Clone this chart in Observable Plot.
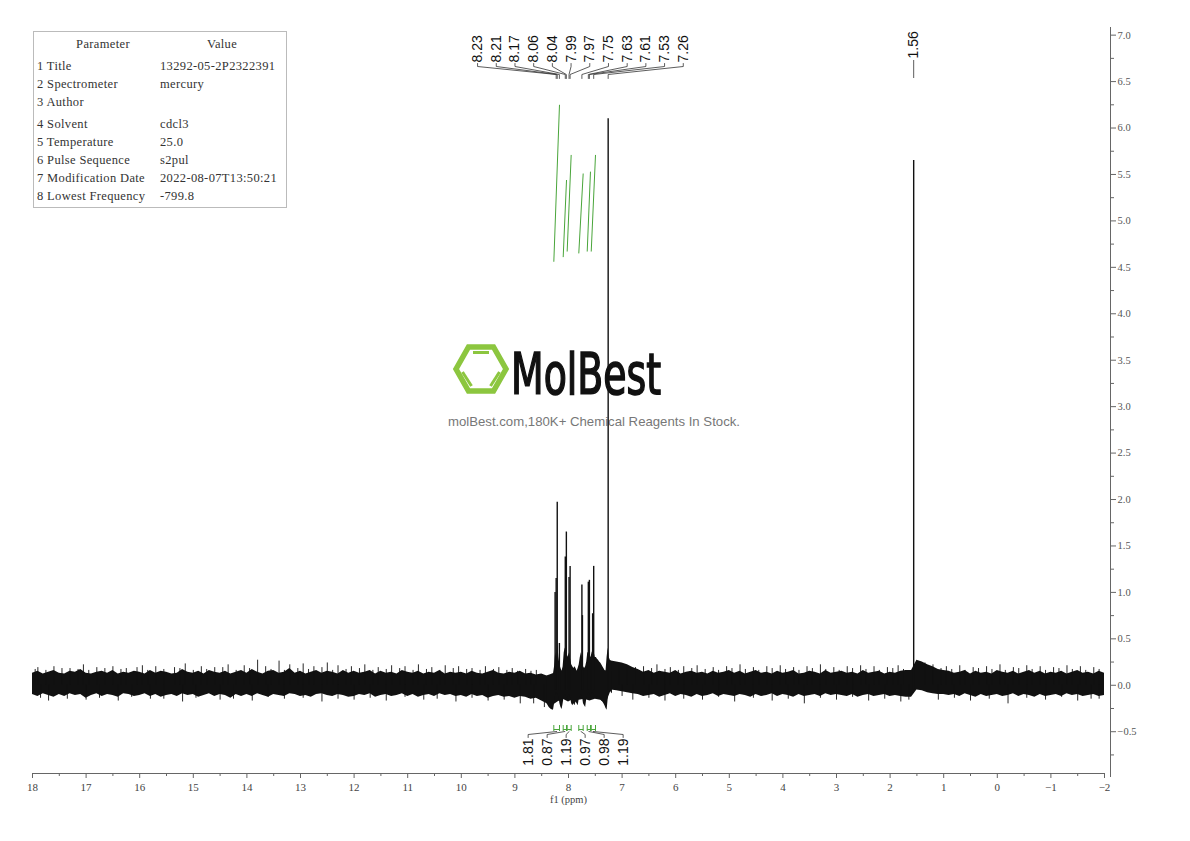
<!DOCTYPE html>
<html><head><meta charset="utf-8">
<script src="https://cdn.jsdelivr.net/npm/d3@7"></script>
<script src="https://cdn.jsdelivr.net/npm/@observablehq/plot@0.6"></script>
<style>
body{margin:0;background:#fff;}
#wrap{position:relative;width:1190px;height:841px;overflow:hidden;background:#fff;}
#wm{position:absolute;left:0;top:0;z-index:0;}
#chart{position:absolute;left:0;top:0;z-index:1;}
#chart svg{background:transparent !important;}
#params{position:absolute;left:33px;top:31px;width:254px;height:177px;border:1px solid #bbb;box-sizing:border-box;z-index:2;font-family:"Liberation Serif",serif;font-size:12.5px;color:#333;background:#fff;letter-spacing:0.35px;}
#params span{position:absolute;white-space:nowrap;line-height:14px;}
</style></head>
<body>
<div id="wrap">
<svg id="wm" width="1190" height="841">
  <g fill="none" stroke="#8cc63f" stroke-linejoin="miter">
    <polygon stroke-width="5.5" points="456,369 468.5,347 493.5,347 506,369 493.5,391 468.5,391"/>
    <line stroke-width="3" x1="473" y1="352.5" x2="489" y2="352.5"/>
    <line stroke-width="3" x1="462.5" y1="372" x2="471.5" y2="386"/>
    <line stroke-width="3" x1="499.5" y1="372" x2="490.5" y2="386"/>
  </g>
  <text x="511" y="393.5" font-family="DejaVu Sans Condensed, DejaVu Sans" font-size="57" fill="#111" stroke="#111" stroke-width="1.6" textLength="150" lengthAdjust="spacingAndGlyphs">MolBest</text>
  <text x="594" y="426" text-anchor="middle" font-family="Liberation Sans, Arial" font-size="13" fill="#777" textLength="292" lengthAdjust="spacingAndGlyphs">molBest.com,180K+ Chemical Reagents In Stock.</text>
</svg>
<div id="chart"></div>
<div id="params"></div>
</div>
<script>
// ---------------- DATA ----------------
// Parameter table
const paramHeaders = ["Parameter", "Value"];
const paramNames = ["1 Title","2 Spectrometer","3 Author","4 Solvent","5 Temperature","6 Pulse Sequence","7 Modification Date","8 Lowest Frequency"];
const paramValues = ["13292-05-2P2322391","mercury","","cdcl3","25.0","s2pul","2022-08-07T13:50:21","-799.8"];

// axis ticks
const xTickValues = [18,17,16,15,14,13,12,11,10,9,8,7,6,5,4,3,2,1,0,-1,-2];
const yTickValues = [7,6.5,6,5.5,5,4.5,4,3.5,3,2.5,2,1.5,1,0.5,0,-0.5];
const xLabel = "f1 (ppm)";

// baseline noise envelope, read every 0.1 ppm from 18.0 down to -2.0 (hundredths)
const noiseHi = [
13,15,12,14,16,13,12,15,14,17,13,12,14,15,13,16,12,14,13,15,
14,12,16,13,15,14,12,13,17,14,13,15,12,16,14,13,15,12,14,16,
13,17,14,12,15,16,13,14,18,13,15,12,14,16,13,15,14,12,16,13,
15,13,14,16,12,15,13,14,12,16,14,13,15,12,14,13,16,12,14,13,
14,12,15,13,12,14,16,13,12,14,13,15,12,13,11,12,10,
12,14,15,14,14,15,16,17,18,16,15,
26,25,24,22,19,17,
14,16,13,15,14,13,16,12,14,15,13,14,12,15,13,14,16,
13,15,12,14,16,13,14,12,15,13,14,16,12,13,15,14,12,16,13,14,
15,13,14,12,16,13,14,15,12,14,13,15,16,
16,27,25,22,20,17,16,
15,13,14,16,12,15,13,14,12,16,14,13,15,12,14,16,13,15,12,14,13,15,12,14,16,13,14,12,15,13];
const noiseLo = [
-10,-12,-9,-11,-13,-10,-12,-9,-11,-10,-14,-11,-9,-12,-10,-11,-13,-9,-10,-12,
-11,-9,-12,-10,-13,-11,-10,-12,-9,-11,-10,-13,-11,-9,-12,-10,-11,-14,-10,-12,
-10,-12,-9,-11,-13,-10,-11,-12,-9,-10,-12,-11,-13,-10,-9,-11,-12,-10,-11,-13,
-12,-10,-11,-9,-13,-11,-10,-12,-11,-9,-12,-10,-13,-11,-10,-12,-9,-11,-10,-12,
-11,-13,-10,-12,-11,-14,-12,-11,-13,-12,-14,-12,-13,-15,-14,-17,-20,
-22,-18,-15,-18,-15,-16,-15,-17,-15,-16,-20,
-5,-6,-7,-8,-9,-10,
-12,-11,-10,-13,-11,-9,-12,-10,-11,-13,-10,-12,-11,-9,-12,-10,-11,
-12,-10,-11,-13,-10,-12,-11,-9,-12,-10,-11,-13,-10,-12,-11,-10,-12,-9,-11,-10,
-11,-12,-10,-13,-11,-10,-12,-11,-10,-12,-11,-12,-13,
-13,-5,-6,-8,-9,-10,-10,
-11,-10,-12,-9,-11,-13,-10,-12,-11,-10,-12,-11,-9,-12,-10,-11,-13,-10,-12,-11,-10,-12,-9,-11,-10,-12,-11,-10,-12,-11];

// finer envelope in the aromatic region
const aroPpm = [8.40,8.36,8.32,8.28,8.26,8.24,8.22,8.20,8.18,8.16,8.14,8.12,8.10,8.08,8.06,8.04,8.02,8.00,7.98,7.96,7.94,7.92,7.90,7.88,7.86,7.84,7.82,7.80,7.78,7.76,7.74,7.72,7.70,7.68,7.66,7.64,7.62,7.60,7.58,7.56,7.54,7.52,7.50,7.48,7.46,7.44,7.42,7.40,7.38,7.36,7.34,7.32,7.30,7.28,7.26,7.24,7.22,7.20,7.18];
const aroHi  = [0.10,0.09,0.10,0.12,0.20,0.35,0.30,0.45,0.30,0.22,0.18,0.15,0.20,0.35,0.40,0.35,0.30,0.32,0.35,0.28,0.22,0.20,0.18,0.20,0.18,0.15,0.18,0.22,0.30,0.35,0.30,0.20,0.18,0.20,0.25,0.35,0.35,0.32,0.30,0.35,0.38,0.35,0.30,0.30,0.28,0.27,0.25,0.24,0.22,0.20,0.18,0.16,0.15,0.30,0.40,0.30,0.27,0.26,0.24];
const aroLo  = [-0.20,-0.24,-0.26,-0.27,-0.20,-0.10,-0.08,-0.10,-0.12,-0.20,-0.24,-0.26,-0.20,-0.12,-0.10,-0.12,-0.15,-0.12,-0.10,-0.14,-0.20,-0.22,-0.20,-0.22,-0.18,-0.20,-0.22,-0.15,-0.12,-0.10,-0.12,-0.20,-0.22,-0.24,-0.15,-0.10,-0.08,-0.10,-0.12,-0.08,-0.08,-0.10,-0.12,-0.14,-0.12,-0.15,-0.15,-0.14,-0.17,-0.18,-0.20,-0.22,-0.25,-0.27,-0.15,-0.05,-0.06,-0.08,-0.09];

// isolated noise spikes
const upPpm = [17.9,17.6,17.3,17.05,16.8,16.5,16.25,15.95,15.7,15.35,15.15,14.85,14.6,14.35,14.05,13.8,13.65,13.4,13.2,12.95,12.75,12.5,12.3,12.05,11.8,11.55,11.3,11.05,10.8,10.55,10.3,10.05,9.8,9.55,9.3,9.05,8.8,8.6,6.9,6.6,6.35,6.1,5.85,5.6,5.3,5.05,4.8,4.55,4.3,4.05,3.8,3.55,3.3,3.05,2.8,2.55,2.3,2.05,1.85,1.2,0.95,0.7,0.45,0.2,-0.05,-0.3,-0.55,-0.8,-1.05,-1.3,-1.55,-1.8,
  17.95,17.75,17.45,17.15,16.95,16.65,16.35,16.05,15.85,15.55,15.25,15.0,14.75,14.45,14.2,13.95,13.55,13.3,13.05,12.85,12.6,12.4,12.15,11.9,11.65,11.4,11.15,10.9,10.65,10.4,10.15,9.9,9.65,9.4,9.15,8.95,8.7,
  7.05,6.75,6.45,6.2,5.95,5.7,5.45,5.2,4.95,4.7,4.45,4.2,3.95,3.7,3.45,3.2,2.95,2.7,2.45,2.2,1.95,1.75,
  1.35,1.05,0.85,0.6,0.35,0.1,-0.15,-0.4,-0.65,-0.9,-1.15,-1.4,-1.65,-1.9];
const upVal = [0.19,0.20,0.18,0.22,0.19,0.20,0.18,0.21,0.20,0.19,0.23,0.20,0.19,0.22,0.21,0.27,0.20,0.26,0.22,0.23,0.20,0.24,0.21,0.20,0.22,0.19,0.21,0.20,0.22,0.19,0.21,0.20,0.18,0.20,0.19,0.18,0.17,0.16,0.20,0.20,0.22,0.19,0.20,0.21,0.19,0.20,0.22,0.19,0.20,0.21,0.19,0.20,0.22,0.19,0.20,0.21,0.20,0.19,0.21,0.22,0.20,0.21,0.19,0.20,0.22,0.19,0.21,0.20,0.19,0.21,0.20,0.19,
  0.17,0.16,0.18,0.17,0.16,0.18,0.17,0.19,0.16,0.17,0.18,0.16,0.17,0.19,0.16,0.18,0.17,0.16,0.18,0.17,0.19,0.16,0.17,0.18,0.16,0.17,0.18,0.16,0.17,0.16,0.18,0.17,0.16,0.17,0.16,0.15,0.15,
  0.22,0.19,0.18,0.17,0.16,0.18,0.17,0.16,0.18,0.17,0.16,0.18,0.17,0.16,0.18,0.17,0.16,0.18,0.17,0.16,0.18,0.17,
  0.24,0.18,0.17,0.16,0.18,0.17,0.16,0.18,0.17,0.16,0.18,0.17,0.16,0.17];
const downPpm = [17.7,17.0,16.4,15.8,15.2,14.5,13.9,13.3,12.6,12.0,11.4,10.7,10.1,9.5,8.9,8.45,6.8,6.2,5.5,4.9,4.2,3.6,3.0,2.4,1.8,1.1,0.5,-0.2,-0.9,-1.5,-1.9,
  17.85,17.35,16.75,16.15,15.55,14.95,14.25,13.6,12.95,12.3,11.7,11.05,10.45,9.8,9.2,8.65,7.0,6.5,5.85,5.2,4.55,3.9,3.3,2.7,2.1,1.65,0.8,0.15,-0.55,-1.2,-1.75];
const downVal = [-0.17,-0.16,-0.17,-0.15,-0.18,-0.16,-0.17,-0.15,-0.18,-0.16,-0.17,-0.16,-0.18,-0.17,-0.20,-0.24,-0.16,-0.17,-0.16,-0.18,-0.17,-0.20,-0.16,-0.17,-0.18,-0.16,-0.17,-0.20,-0.16,-0.17,-0.15,
  -0.14,-0.15,-0.14,-0.13,-0.15,-0.14,-0.15,-0.13,-0.14,-0.15,-0.14,-0.13,-0.15,-0.14,-0.16,-0.20,-0.12,-0.14,-0.15,-0.13,-0.14,-0.15,-0.14,-0.13,-0.15,-0.16,-0.14,-0.15,-0.14,-0.13,-0.15];

// resonance lines
const peakPpm = [8.25,8.23,8.21,8.17,8.06,8.04,7.99,7.97,7.75,7.74,7.63,7.61,7.55,7.53,7.26,1.56];
const peakH   = [1.00,1.15,1.97,0.45,1.38,1.65,1.16,1.28,1.08,0.75,1.11,1.13,0.77,1.28,6.10,5.65];

// peak labels
const aroLabels = [8.23,8.21,8.17,8.06,8.04,7.99,7.97,7.75,7.63,7.61,7.53,7.26];
const soloLabels = [1.56];

// integrals
const integFrom = [8.274,8.099,8.025,7.808,7.651,7.576];
const integTo   = [8.168,8.037,7.950,7.726,7.590,7.496];
const integLo   = [4.56,4.61,4.67,4.65,4.67,4.67];
const integHi   = [6.25,5.44,5.71,5.51,5.53,5.71];
const integVal  = ["1.81","0.87","1.19","0.97","0.98","1.19"];

// ---------------- LAYOUT ----------------
const W = 1190, H = 841, mL = 32, mR = 86, mT = 30, mB = 68;
const X0 = 18, X1 = -2, Y0 = -0.95, Y1 = 7.05;
const pxPerPpm = (W - mL - mR) / (X0 - X1);
const yv = px => Y0 + (H - mB - px) * (Y1 - Y0) / (H - mB - mT);
const xpx = ppm => mL + (X0 - ppm) * pxPerPpm;
const ppmAt = px => X0 - (px - mL) / pxPerPpm;
const green = "#49a53a";
const serif = "Liberation Serif, DejaVu Serif, serif";
const sans = "Liberation Sans, Arial, sans-serif";

const noise = noiseHi.slice(0, Math.min(noiseHi.length, noiseLo.length)).map((h, i) => ({
  ppm: +(X0 - i * 0.1).toFixed(1), hi: h / 100, lo: noiseLo[i] / 100
}));
const aro = aroPpm.map((p, i) => ({ppm: p, hi: aroHi[i], lo: aroLo[i]}));
const ups = upPpm.map((p, i) => ({ppm: p, v: upVal[i]})).filter(d => d.v != null);
const downs = downPpm.map((p, i) => ({ppm: p, v: downVal[i]})).filter(d => d.v != null);
const peaks = peakPpm.map((p, i) => ({ppm: p, h: peakH[i]}));
const integ = integFrom.map((f, i) => ({from: f, to: integTo[i], lo: integLo[i], hi: integHi[i], val: integVal[i]}));

// top labels spread evenly around their group
const aroCenterPx = xpx(d3.mean(aroLabels)) + 5;
const topLab = aroLabels.map((p, i) => ({
  ppm: p, lx: ppmAt(aroCenterPx + (i - (aroLabels.length - 1) / 2) * 18.7), text: p.toFixed(2)
}));
const topConn = [];
topLab.forEach((d, i) => {
  topConn.push({k: i, x: d.ppm, y: yv(78)}, {k: i, x: d.ppm, y: yv(74)},
               {k: i, x: d.lx, y: yv(66)}, {k: i, x: d.lx, y: yv(63)});
});

// integral labels spread evenly
const intCenterPx = xpx(d3.mean(integ, d => (d.from + d.to) / 2));
const botLab = integ.map((d, i) => ({
  mid: (d.from + d.to) / 2, lx: ppmAt(intCenterPx + (i - (integ.length - 1) / 2) * 19), text: d.val
}));
const botConn = [];
botLab.forEach((d, i) => {
  botConn.push({k: i, x: d.mid, y: yv(731)}, {k: i, x: d.lx, y: yv(734)}, {k: i, x: d.lx, y: yv(737)});
});
const yMinor = yTickValues.slice(0, -1).map(v => v - 0.25).concat([-0.75]);
const xMinor = xTickValues.slice(0, -1).map(v => v - 0.5);
const fmtY = d => (d < 0 ? "\u2212" : "") + Math.abs(d).toFixed(1);
const fmtX = d => (d < 0 ? "\u2212" : "") + Math.abs(d);

const chart = Plot.plot({
  width: W, height: H,
  marginLeft: mL, marginRight: mR, marginTop: mT, marginBottom: mB,
  x: {domain: [X0, X1]},
  y: {domain: [Y0, Y1]},
  style: {background: "transparent", fontFamily: serif, overflow: "visible"},
  marks: [
    // spectrum
    Plot.areaY(noise, {x: "ppm", y1: "lo", y2: "hi", fill: "#111", curve: "linear"}),
    Plot.areaY(aro, {x: "ppm", y1: "lo", y2: "hi", fill: "#111", curve: "linear"}),
    Plot.ruleX(ups, {x: "ppm", y1: 0, y2: "v", stroke: "#111", strokeWidth: 0.9}),
    Plot.ruleX(downs, {x: "ppm", y1: 0, y2: "v", stroke: "#111", strokeWidth: 0.9}),
    Plot.ruleX(peaks, {x: "ppm", y1: -0.05, y2: "h", stroke: "#111", strokeWidth: 1.4}),
    // integral curves
    Plot.link(integ, {x1: "from", y1: "lo", x2: "to", y2: "hi", stroke: green, strokeWidth: 1}),
    // integral brackets
    Plot.link(integ, {x1: "from", x2: "to", y1: () => yv(729), y2: () => yv(729), stroke: green, strokeWidth: 1}),
    Plot.ruleX(integ, {x: "from", y1: () => yv(725), y2: () => yv(731), stroke: green, strokeWidth: 1}),
    Plot.ruleX(integ, {x: "to", y1: () => yv(725), y2: () => yv(731), stroke: green, strokeWidth: 1}),
    Plot.line(botConn, {x: "x", y: "y", z: "k", stroke: "#333", strokeWidth: 0.8}),
    Plot.text(botLab, {x: "lx", y: () => yv(738), text: "text", rotate: -90, textAnchor: "end", fontFamily: sans, fontSize: 14, fill: "#111"}),
    // peak labels
    Plot.line(topConn, {x: "x", y: "y", z: "k", stroke: "#333", strokeWidth: 0.8}),
    Plot.text(topLab, {x: "lx", y: () => yv(62), text: "text", rotate: -90, textAnchor: "start", fontFamily: sans, fontSize: 14, fill: "#111"}),
    Plot.ruleX(soloLabels, {x: d => d, y1: () => yv(60), y2: () => yv(78), stroke: "#333", strokeWidth: 0.8}),
    Plot.text(soloLabels, {x: d => d, y: () => yv(58), text: d => d.toFixed(2), rotate: -90, textAnchor: "start", fontFamily: sans, fontSize: 14, fill: "#111"}),
    // axes
    Plot.ruleY([Y0], {stroke: "#666", strokeWidth: 1}),
    Plot.axisX(xTickValues, {anchor: "bottom", tickSize: 5, tickPadding: 5, tickFormat: fmtX, stroke: "#666", fill: "#444", fontSize: 11, fontFamily: serif}),
    Plot.axisX(xMinor, {anchor: "bottom", tickSize: 3, tickFormat: () => "", stroke: "#666"}),
    Plot.text([xLabel], {frameAnchor: "bottom", dy: 29, fontSize: 10.5, fontFamily: serif, fill: "#444"}),
    Plot.ruleX([X1], {dx: 6, stroke: "#666", strokeWidth: 1, insetTop: -3, insetBottom: -4}),
    Plot.axisY(yTickValues, {anchor: "right", dx: 6, tickSize: 5, tickPadding: 2, tickFormat: fmtY, stroke: "#666", fill: "#555", fontSize: 10.5, fontFamily: serif}),
    Plot.axisY(yMinor, {anchor: "right", dx: 6, tickSize: 3, tickFormat: () => "", stroke: "#666"})
  ]
});
document.getElementById("chart").appendChild(chart);

// parameter table
const tbl = document.getElementById("params");
const addSpan = (text, left, top, center) => {
  const s = document.createElement("span");
  s.textContent = text;
  s.style.top = top + "px";
  s.style.left = left + "px";
  if (center) s.style.transform = "translateX(-50%)";
  tbl.appendChild(s);
};
addSpan(paramHeaders[0], 69, 5, true);
addSpan(paramHeaders[1], 188, 5, true);
const rowTops = [27, 45, 63, 85, 103, 121, 139, 157];
paramNames.forEach((n, i) => {
  addSpan(n, 3, rowTops[i], false);
  addSpan(paramValues[i], 126, rowTops[i], false);
});
</script>
</body></html>
